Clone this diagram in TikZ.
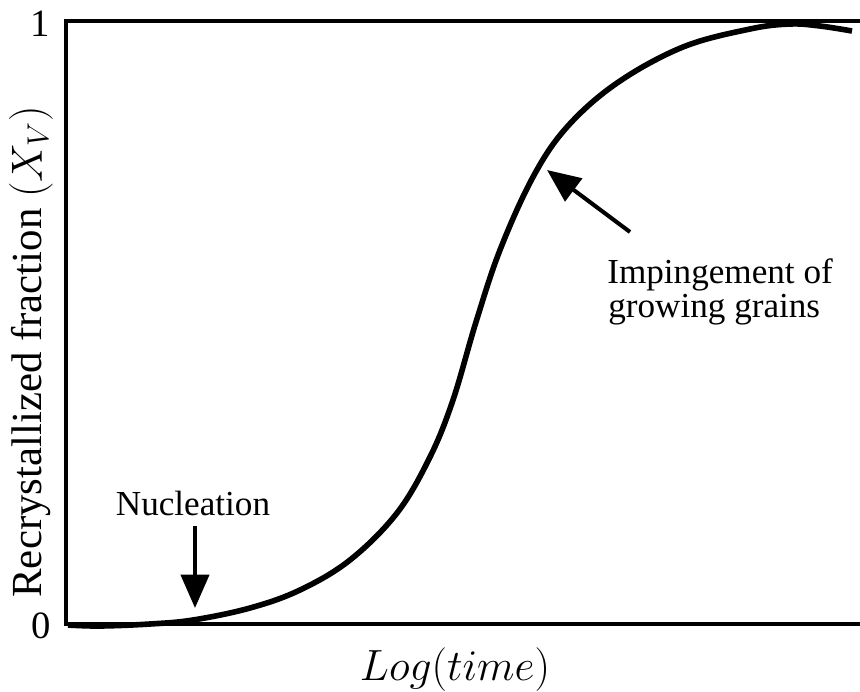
\documentclass[tikz,border=0pt]{standalone}
\usepackage{fontspec}
\setmainfont{Liberation Serif}
\usetikzlibrary{arrows.meta}
\tikzset{
  frameline/.style={line width=2.8pt, line join=miter},
  curveline/.style={line width=3.2pt},
  annarrow/.style={line width=2.3pt, -{Triangle[length=19pt,width=16pt]}},
  anntext/.style={inner sep=0pt, font=\fontsize{20}{24}\selectfont},
  ticktext/.style={inner sep=0pt, font=\fontsize{22}{26}\selectfont},
}
\begin{document}
\begin{tikzpicture}[x=0.02cm, y=-0.02cm]
\useasboundingbox (0,0) rectangle (860,691);
% frame
\draw[frameline] (860,21) -- (66,21) -- (66,624) -- (860,624);
% sigmoid curve
\draw[curveline] plot[smooth, tension=0.6] coordinates {
 (68,625) (100,626) (150,624) (193,620) (250,608) (300,590) (350,560)
 (397,513) (430,457) (453,400) (476,322) (500,250) (533,177)
 (567,127) (617,83) (683,47) (750,29) (790,24) (820,26) (852,31)};
% tick labels
\node[ticktext] (one) at (40,24) {1};
\node[ticktext] (zero) at (41,626) {0};
% axis labels
\node[inner sep=0pt, rotate=90, font=\fontsize{24.4}{28}\selectfont] (ylab) at (31,352)
  {Recrystallized fraction $(X_V)$};
\node[inner sep=0pt, anchor=base, font=\fontsize{23.6}{28}\selectfont] (xlab) at (455,680)
  {$Log(time)$};
% annotations
\node[anntext, anchor=base] (nuc) at (193,515) {Nucleation};
\coordinate (nucA) at (195,526);
\coordinate (nucB) at (195,608);
\draw[annarrow] (nucA) -- (nucB);
\node[anntext, anchor=base west] (imp1) at (607,283) {Impingement of};
\node[anntext, anchor=base west] (imp2) at (608,317) {growing grains};
\coordinate (impA) at (630,232);
\coordinate (impB) at (547,170);
\draw[annarrow] (impA) -- (impB);
\end{tikzpicture}
\end{document}
